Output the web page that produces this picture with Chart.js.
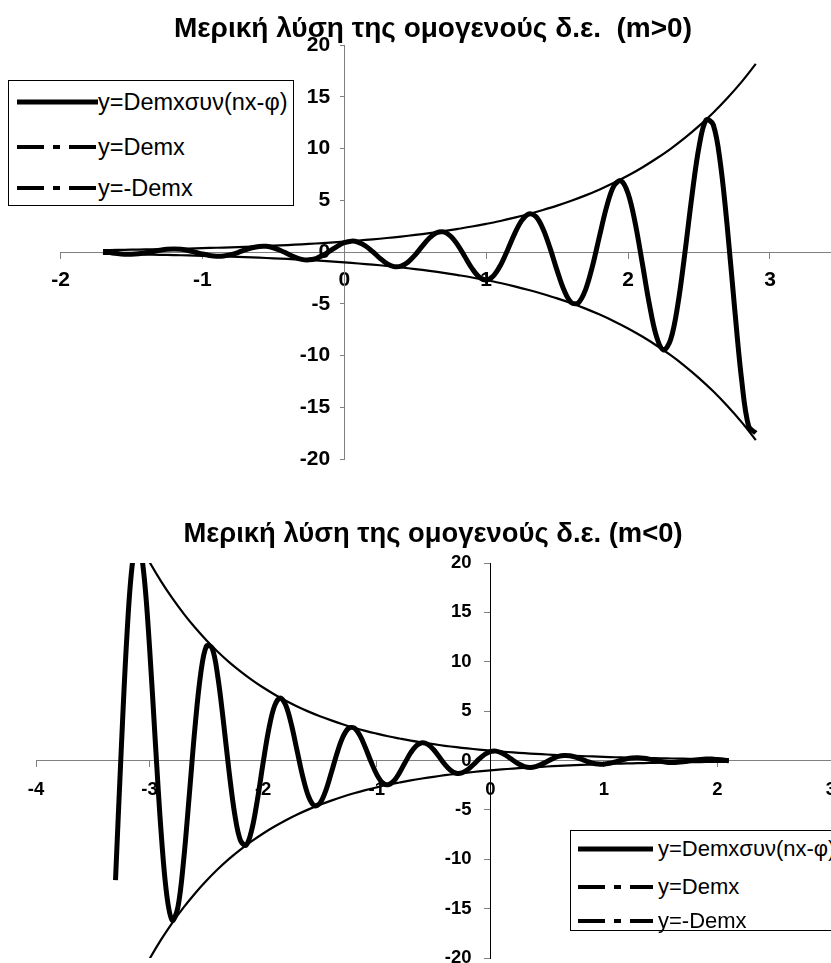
<!DOCTYPE html>
<html lang="el">
<head>
<meta charset="utf-8">
<title>Μερική λύση της ομογενούς δ.ε.</title>
<script src="https://cdn.jsdelivr.net/npm/chart.js@4.4.1/dist/chart.umd.min.js"></script>
<style>
  html, body { margin: 0; padding: 0; background: #fff; }
  body {
    position: relative;
    width: 831px;
    height: 963px;
    overflow: hidden;
    font-family: "Liberation Sans", Arial, sans-serif;
    color: #000;
  }
  canvas { position: absolute; left: 0; }
  #chart-top { top: 0; }
  #chart-bottom { top: 480px; }
  .chart-title {
    position: absolute;
    left: 0;
    width: 866px;
    text-align: center;
    font-weight: bold;
    line-height: 32px;
    white-space: pre;
  }
  #title-top { top: 12px; font-size: 28px; }
  #title-bottom { top: 517px; font-size: 27.4px; }
  .legend {
    position: absolute;
    background: #fff;
    border: 1px solid #000;
    box-sizing: border-box;
  }
  #legend-top { left: 8px; top: 80px; width: 286px; height: 126px; }
  #legend-bottom { left: 570px; top: 830px; width: 300px; height: 101px; }
  .legend-row { position: absolute; left: 0; height: 28px; width: 100%; }
  .legend-row svg { position: absolute; top: 0; }
  .legend-row span { position: absolute; top: 0; line-height: 28px; white-space: nowrap; }
</style>
</head>
<body>
<canvas id="chart-top" width="831" height="480"></canvas>
<canvas id="chart-bottom" width="831" height="483"></canvas>
<div class="chart-title" id="title-top"></div>
<div class="chart-title" id="title-bottom"></div>
<div class="legend" id="legend-top"></div>
<div class="legend" id="legend-bottom"></div>
<script>
// Upper chart (m>0): oscillation sampled every 0.05
const topX = [-1.7,-1.65,-1.6,-1.55,-1.5,-1.45,-1.4,-1.35,-1.3,-1.25,-1.2,-1.15,-1.1,-1.05,-1,-0.95,-0.9,-0.85,-0.8,-0.75,
  -0.7,-0.65,-0.6,-0.55,-0.5,-0.45,-0.4,-0.35,-0.3,-0.25,-0.2,-0.15,-0.1,-0.05,0,0.05,0.1,0.15,0.2,0.25,
  0.3,0.35,0.4,0.45,0.5,0.55,0.6,0.65,0.7,0.75,0.8,0.85,0.9,0.95,1,1.05,1.1,1.15,1.2,1.25,
  1.3,1.35,1.4,1.45,1.5,1.55,1.6,1.65,1.7,1.75,1.8,1.85,1.9,1.95,2,2.05,2.1,2.15,2.2,2.25,
  2.3,2.35,2.4,2.45,2.5,2.55,2.6,2.65,2.7,2.75,2.8,2.85,2.9];
const topY = [0.03,-0.06,-0.15,-0.21,-0.22,-0.17,-0.08,0.05,0.17,0.27,
  0.30,0.26,0.15,-0.02,-0.19,-0.33,-0.41,-0.38,-0.25,-0.05,
  0.20,0.41,0.54,0.55,0.41,0.15,-0.17,-0.49,-0.71,-0.76,
  -0.63,-0.32,0.11,0.55,0.90,1.05,0.94,0.58,0.03,-0.59,
  -1.12,-1.41,-1.37,-0.96,-0.27,0.57,1.35,1.86,1.94,1.52,
  0.67,-0.46,-1.58,-2.41,-2.70,-2.32,-1.30,0.17,1.75,3.03,
  3.67,3.42,2.25,0.37,-1.80,-3.73,-4.89,-4.91,-3.65,-1.31,
  1.62,4.43,6.39,6.89,5.65,2.81,-1.06,-5.05,-8.16,-9.47,
  -8.46,-5.14,-0.13,5.43,10.17,12.76,12.31,8.61,2.28,-5.31,
  -12.32,-16.86,-17.49];
// Upper chart envelopes, sampled every 0.1
const topEnvX = [-1.7,-1.6,-1.5,-1.4,-1.3,-1.2,-1.1,-1,-0.9,-0.8,-0.7,-0.6,-0.5,-0.4,-0.3,-0.2,-0.1,0,
  0.1,0.2,0.3,0.4,0.5,0.6,0.7,0.8,0.9,1,1.1,1.2,1.3,1.4,1.5,1.6,1.7,1.8,1.9,2,2.1,2.2,2.3,2.4,2.5,2.6,2.7,2.8,2.9];
const topEnvUpper = [0.18,0.20,0.22,0.25,0.27,0.30,0.33,0.37,0.41,0.45,0.50,0.55,0.61,0.67,0.74,0.82,0.90,1.00,
  1.11,1.22,1.35,1.49,1.65,1.82,2.01,2.23,2.46,2.72,3.00,3.32,3.67,4.06,4.48,4.95,5.47,6.05,6.69,7.39,8.17,9.03,9.97,11.02,12.18,13.46,14.88,16.44,18.17];
const topEnvLower = [-0.18,-0.20,-0.22,-0.25,-0.27,-0.30,-0.33,-0.37,-0.41,-0.45,-0.50,-0.55,-0.61,-0.67,-0.74,-0.82,-0.90,-1.00,
  -1.11,-1.22,-1.35,-1.49,-1.65,-1.82,-2.01,-2.23,-2.46,-2.72,-3.00,-3.32,-3.67,-4.06,-4.48,-4.95,-5.47,-6.05,-6.69,-7.39,-8.17,-9.03,-9.97,-11.02,-12.18,-13.46,-14.88,-16.44,-18.17];
const topXTicks = [-2, -1, 0, 1, 2, 3];
const topYTicks = [-20, -15, -10, -5, 0, 5, 10, 15, 20];

// Lower chart (m<0): oscillation sampled every 0.05
const bottomX = [-3.3,-3.25,-3.2,-3.15,-3.1,-3.05,-3,-2.95,-2.9,-2.85,-2.8,-2.75,-2.7,-2.65,-2.6,-2.55,-2.5,-2.45,-2.4,-2.35,
  -2.3,-2.25,-2.2,-2.15,-2.1,-2.05,-2,-1.95,-1.9,-1.85,-1.8,-1.75,-1.7,-1.65,-1.6,-1.55,-1.5,-1.45,-1.4,-1.35,
  -1.3,-1.25,-1.2,-1.15,-1.1,-1.05,-1,-0.95,-0.9,-0.85,-0.8,-0.75,-0.7,-0.65,-0.6,-0.55,-0.5,-0.45,-0.4,-0.35,
  -0.3,-0.25,-0.2,-0.15,-0.1,-0.05,0,0.05,0.1,0.15,0.2,0.25,0.3,0.35,0.4,0.45,0.5,0.55,0.6,0.65,
  0.7,0.75,0.8,0.85,0.9,0.95,1,1.05,1.1,1.15,1.2,1.25,1.3,1.35,1.4,1.45,1.5,1.55,1.6,1.65,
  1.7,1.75,1.8,1.85,1.9,1.95,2,2.05,2.1];
const bottomY = [-12.12,0.95,12.54,20.08,22.18,18.87,11.42,2.00,-7.00,-13.49,
  -16.19,-14.83,-10.10,-3.46,3.38,8.77,11.58,11.40,8.55,3.97,
  -1.11,-5.45,-8.09,-8.58,-7.00,-3.93,-0.22,3.19,5.52,6.33,
  5.57,3.58,0.93,-1.68,-3.65,-4.57,-4.33,-3.10,-1.25,0.72,
  2.33,3.24,3.30,2.58,1.32,-0.13,-1.41,-2.24,-2.46,-2.08,
  -1.25,-0.20,0.79,1.51,1.80,1.64,1.11,0.37,-0.39,-0.98,
  -1.29,-1.26,-0.94,-0.43,0.13,0.61,0.90,0.95,0.77,0.43,
  0.02,-0.36,-0.61,-0.70,-0.62,-0.39,-0.10,0.19,0.41,0.51,
  0.48,0.34,0.13,-0.08,-0.26,-0.36,-0.37,-0.28,-0.14,0.02,
  0.16,0.25,0.27,0.23,0.14,0.02,-0.09,-0.17,-0.20,-0.18,
  -0.12,-0.04,0.04,0.11,0.14,0.14,0.10,0.05,-0.02];
// Lower chart envelopes, sampled every 0.1
const bottomEnvX = [-3.3,-3.2,-3.1,-3,-2.9,-2.8,-2.7,-2.6,-2.5,-2.4,-2.3,-2.2,-2.1,-2,-1.9,-1.8,-1.7,-1.6,-1.5,-1.4,
  -1.3,-1.2,-1.1,-1,-0.9,-0.8,-0.7,-0.6,-0.5,-0.4,-0.3,-0.2,-0.1,0,0.1,0.2,0.3,0.4,0.5,0.6,
  0.7,0.8,0.9,1,1.1,1.2,1.3,1.4,1.5,1.6,1.7,1.8,1.9,2,2.1];
const bottomEnvUpper = [27.11,24.53,22.20,20.09,18.17,16.44,14.88,13.46,12.18,11.02,9.97,9.03,8.17,7.39,6.69,6.05,5.47,4.95,4.48,4.06,
  3.67,3.32,3.00,2.72,2.46,2.23,2.01,1.82,1.65,1.49,1.35,1.22,1.11,1.00,0.90,0.82,0.74,0.67,0.61,0.55,
  0.50,0.45,0.41,0.37,0.33,0.30,0.27,0.25,0.22,0.20,0.18,0.17,0.15,0.14,0.12];
const bottomEnvLower = [-27.11,-24.53,-22.20,-20.09,-18.17,-16.44,-14.88,-13.46,-12.18,-11.02,-9.97,-9.03,-8.17,-7.39,-6.69,-6.05,-5.47,-4.95,-4.48,-4.06,
  -3.67,-3.32,-3.00,-2.72,-2.46,-2.23,-2.01,-1.82,-1.65,-1.49,-1.35,-1.22,-1.11,-1.00,-0.90,-0.82,-0.74,-0.67,-0.61,-0.55,
  -0.50,-0.45,-0.41,-0.37,-0.33,-0.30,-0.27,-0.25,-0.22,-0.20,-0.18,-0.17,-0.15,-0.14,-0.12];
const bottomXTicks = [-4, -3, -2, -1, 0, 1, 2, 3];
const bottomYTicks = [-20, -15, -10, -5, 0, 5, 10, 15, 20];

const seriesNames = ['y=Demxσυν(nx-φ)', 'y=Demx', 'y=-Demx'];
const topTitle = 'Μερική λύση της ομογενούς δ.ε.  (m>0)';
const bottomTitle = 'Μερική λύση της ομογενούς δ.ε. (m<0)';

document.addEventListener('DOMContentLoaded', function() {
  const FONT = '"Liberation Sans", Arial, sans-serif';

  document.getElementById('title-top').textContent = topTitle;
  document.getElementById('title-bottom').textContent = bottomTitle;

  drawChart('chart-top', {
    curve: toPoints(topX, topY),
    upper: toPoints(topEnvX, topEnvUpper),
    lower: toPoints(topEnvX, topEnvLower),
    xMin: -2, xMax: 3.43,
    xTicks: topXTicks, yTicks: topYTicks,
    padding: { left: 60.5, right: 0, top: 45, bottom: 21 },
    tickSize: 21, xLabelPad: 10, yLabelAt: -0.1, yTickLen: 4,
    axisColor: '#808080', yAxisColor: '#808080'
  });

  drawChart('chart-bottom', {
    curve: toPoints(bottomX, bottomY),
    upper: toPoints(bottomEnvX, bottomEnvUpper),
    lower: toPoints(bottomEnvX, bottomEnvLower),
    xMin: -4, xMax: 3,
    xTicks: bottomXTicks, yTicks: bottomYTicks,
    padding: { left: 36, right: 0, top: 83, bottom: 5 },
    tickSize: 18.5, xLabelPad: 12, yLabelAt: -0.165, yTickLen: 6,
    axisColor: '#808080', yAxisColor: '#000'
  });

  buildLegend('legend-top', { rows: [21, 66, 107], sampleLeft: 8, sampleWidth: 81, textLeft: 89, fontSize: 23.5 });
  buildLegend('legend-bottom', { rows: [18, 56, 90], sampleLeft: 7, sampleWidth: 75, textLeft: 87, fontSize: 22 });

  // pair x and y arrays into scatter points
  function toPoints(xs, ys) {
    return xs.map((x, i) => ({ x: x, y: ys[i] }));
  }

  // chart.js chart with axes crossing at the origin
  function drawChart(id, o) {
    const tickFont = { family: FONT, size: o.tickSize, weight: 'bold' };
    const noSpace = function(scale) {
      if (scale.isHorizontal()) {
        scale.height = 0;
      } else {
        scale.width = 0;
      }
      scale.paddingLeft = 0;
      scale.paddingRight = 0;
      scale.paddingTop = 0;
      scale.paddingBottom = 0;
    };
    const line = (label, data, width) => ({
      label: label,
      data: data,
      showLine: true,
      borderColor: '#000',
      backgroundColor: '#000',
      borderWidth: width,
      borderJoinStyle: 'round',
      tension: 0.35,
      pointRadius: 0,
      pointHoverRadius: 0
    });

    return new Chart(document.getElementById(id), {
      type: 'scatter',
      data: {
        datasets: [
          line(seriesNames[0], o.curve, 5),
          line(seriesNames[1], o.upper, 2.2),
          line(seriesNames[2], o.lower, 2.2)
        ]
      },
      options: {
        responsive: false,
        animation: false,
        devicePixelRatio: 1,
        events: [],
        layout: { padding: o.padding },
        plugins: {
          legend: { display: false },
          title: { display: false },
          tooltip: { enabled: false }
        },
        scales: {
          x: {
            type: 'linear',
            min: o.xMin,
            max: o.xMax,
            position: { y: 0 },
            afterFit: noSpace,
            afterBuildTicks: s => { s.ticks = o.xTicks.map(v => ({ value: v })); },
            grid: { drawOnChartArea: false, drawTicks: true, tickLength: 6, color: o.axisColor },
            border: { display: true, color: o.axisColor, width: 1 },
            ticks: {
              color: '#000', font: tickFont, padding: o.xLabelPad,
              autoSkip: false, maxRotation: 0, callback: v => String(v)
            }
          },
          // labels only, shifted left of the axis line
          y: {
            type: 'linear',
            min: -20,
            max: 20,
            position: { x: o.yLabelAt },
            afterFit: noSpace,
            afterBuildTicks: s => { s.ticks = o.yTicks.map(v => ({ value: v })); },
            grid: { display: false },
            border: { display: false },
            ticks: { color: '#000', font: tickFont, autoSkip: false, callback: v => String(v) }
          },
          // the axis line and tick marks at x = 0
          yAxis: {
            axis: 'y',
            type: 'linear',
            min: -20,
            max: 20,
            position: { x: 0 },
            afterFit: noSpace,
            afterBuildTicks: s => { s.ticks = o.yTicks.map(v => ({ value: v })); },
            grid: { drawOnChartArea: false, drawTicks: true, tickLength: o.yTickLen, color: o.axisColor },
            border: { display: true, color: o.yAxisColor, width: 1 },
            ticks: { display: false }
          }
        }
      }
    });
  }

  // legend drawn as html next to the charts
  function buildLegend(boxId, opts) {
    const box = document.getElementById(boxId);
    seriesNames.forEach(function(name, i) {
      const row = document.createElement('div');
      row.className = 'legend-row';
      row.style.top = (opts.rows[i] - 14) + 'px';
      const dash = i === 0 ? '' : ' stroke-dasharray="27 9 7 9"';
      const width = i === 0 ? 5 : 4;
      row.innerHTML =
        '<svg width="' + opts.sampleWidth + '" height="28" style="left:' + opts.sampleLeft + 'px">' +
        '<line x1="0" y1="14" x2="' + opts.sampleWidth + '" y2="14" stroke="#000" stroke-width="' + width + '"' + dash + '/></svg>' +
        '<span style="left:' + opts.textLeft + 'px;font-size:' + opts.fontSize + 'px"></span>';
      row.querySelector('span').textContent = name;
      box.appendChild(row);
    });
  }
});
</script>
</body>
</html>
